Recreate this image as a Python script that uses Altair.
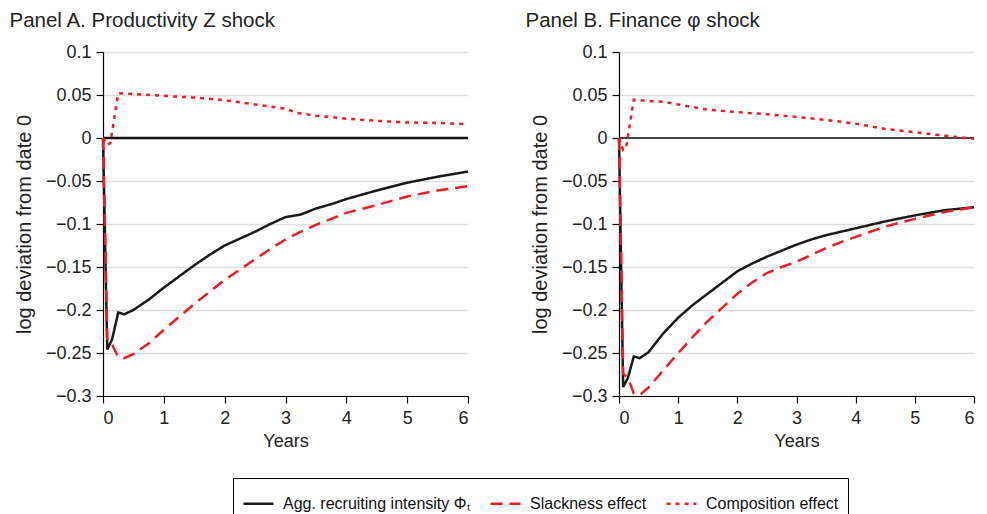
import altair as alt
import pandas as pd

SERIES = ["Agg. recruiting intensity Φₜ", "Slackness effect", "Composition effect"]

# Panel A: productivity shock
a_t = [0, 0.07, 0.15, 0.25, 0.35, 0.5, 0.75, 1, 1.25, 1.5, 1.75, 2, 2.25, 2.5,
       2.75, 3, 3.25, 3.5, 3.75, 4, 4.5, 5, 5.5, 6]
a_agg = [0, -0.246, -0.234, -0.203, -0.205, -0.200, -0.188, -0.174, -0.161, -0.148,
         -0.136, -0.125, -0.117, -0.109, -0.100, -0.092, -0.089, -0.082, -0.077,
         -0.071, -0.061, -0.052, -0.045, -0.039]
a_slack = [0, -0.235, -0.240, -0.255, -0.256, -0.251, -0.239, -0.223, -0.208, -0.193,
           -0.179, -0.165, -0.153, -0.141, -0.129, -0.118, -0.109, -0.101, -0.094,
           -0.087, -0.078, -0.068, -0.061, -0.056]
a_comp_t = [0, 0.07, 0.12, 0.25, 0.5, 1, 1.5, 2, 2.5, 3, 3.2, 3.5, 4, 4.5, 5, 5.5, 6]
a_comp = [0, -0.008, -0.006, 0.052, 0.051, 0.049, 0.047, 0.044, 0.039, 0.034, 0.029,
          0.026, 0.0225, 0.020, 0.018, 0.0175, 0.016]

# Panel B: finance shock
b_t = a_t
b_agg = [0, -0.2895, -0.279, -0.254, -0.256, -0.249, -0.227, -0.209, -0.194, -0.181,
         -0.168, -0.155, -0.146, -0.138, -0.131, -0.124, -0.118, -0.113, -0.109,
         -0.105, -0.097, -0.090, -0.084, -0.0805]
b_slack = [0, -0.274, -0.279, -0.297, -0.299, -0.290, -0.270, -0.250, -0.231, -0.213,
           -0.197, -0.181, -0.168, -0.157, -0.150, -0.144, -0.136, -0.128, -0.121,
           -0.115, -0.103, -0.094, -0.086, -0.0805]
b_comp_t = [0, 0.07, 0.12, 0.25, 0.5, 0.75, 1, 1.5, 2, 2.5, 3, 3.5, 4, 4.5, 5, 5.5, 6]
b_comp = [0, -0.014, -0.011, 0.0447, 0.043, 0.042, 0.039, 0.033, 0.030, 0.0276, 0.0245,
          0.021, 0.0167, 0.0105, 0.0066, 0.0027, -0.001]

Y_TICKS = [-0.3, -0.25, -0.2, -0.15, -0.1, -0.05, 0, 0.05, 0.1]
X_TICKS = [0, 1, 2, 3, 4, 5, 6]

FONT = "Liberation Sans"
TXT = "#222222"
RED = "#EC1C24"

color_scale = alt.Scale(domain=SERIES, range=["#1a1a1a", RED, RED])
dash_scale = alt.Scale(domain=SERIES, range=[[1, 0], [12, 7], [4, 5]])

legend = alt.Legend(
    title=None, orient="none", legendX=130, legendY=426, direction="horizontal",
    columns=3, symbolType="stroke", symbolSize=900, symbolStrokeWidth=2.5,
    labelFont=FONT, labelFontSize=16, labelColor="#111111", labelOffset=8,
    columnPadding=14, padding=9, strokeColor="#000000", labelLimit=400,
)


def make_df(t, agg, slack, ct, comp):
    rows = []
    for x, y in zip(t, agg):
        rows.append({"t": x, "v": y, "s": SERIES[0]})
    for x, y in zip(t, slack):
        rows.append({"t": x, "v": y, "s": SERIES[1]})
    for x, y in zip(ct, comp):
        rows.append({"t": x, "v": y, "s": SERIES[2]})
    return pd.DataFrame(rows)


def panel(title, df, zero_width, width):
    x = alt.X("t:Q", scale=alt.Scale(domain=[0, 6], nice=False),
              axis=alt.Axis(values=X_TICKS, format="d", grid=False, title="Years"))
    y = alt.Y("v:Q", scale=alt.Scale(domain=[-0.3, 0.1], nice=False),
              axis=alt.Axis(values=Y_TICKS, format="~g", grid=True,
                            title="log deviation from date 0"))
    base = alt.Chart(df)
    zero = alt.Chart(pd.DataFrame({"z": [0]})).mark_rule(
        color="#111111", strokeWidth=zero_width).encode(y="z:Q")
    layers = [zero]
    for s in SERIES:
        layers.append(
            base.transform_filter(alt.datum.s == s).mark_line(strokeWidth=2.5).encode(
                x=x, y=y,
                color=alt.Color("s:N", scale=color_scale, legend=legend),
                strokeDash=alt.StrokeDash("s:N", scale=dash_scale, legend=legend),
            )
        )
    return alt.layer(*layers).properties(
        width=width, height=344,
        title=alt.TitleParams(title, anchor="start", frame="bounds", font=FONT,
                              fontSize=20.5, fontWeight="normal", color=TXT,
                              offset=12, dx=-5),
    )


pa = panel("Panel A. Productivity Z shock", make_df(a_t, a_agg, a_slack, a_comp_t, a_comp), 2.5, 365)
pb = panel("Panel B. Finance φ shock", make_df(b_t, b_agg, b_slack, b_comp_t, b_comp), 1.5, 355)

chart = alt.hconcat(pa, pb, spacing=52).properties(
    padding={"left": 1, "top": 2, "right": 0, "bottom": 0}
).configure_view(stroke=None).configure_axis(
    labelFont=FONT, labelFontSize=18, labelColor=TXT,
    titleFont=FONT, titleFontSize=20, titleColor=TXT, titleFontWeight="normal",
    domainColor="#000000", tickColor="#000000", domainWidth=1.2, tickWidth=1.2,
    tickSize=7, labelPadding=5, gridColor="#dddddd", gridWidth=1.5,
).configure_axisY(titlePadding=11).configure_axisX(titlePadding=5, titleFontSize=18,
                                                     labelPadding=6)

chart.save("out.html", embed_options={"renderer": "svg", "actions": False})
